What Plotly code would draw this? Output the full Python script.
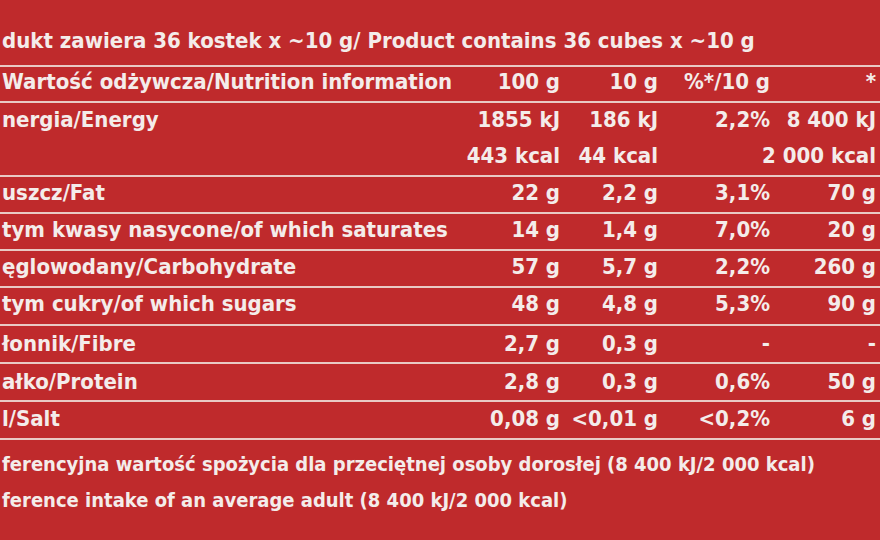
import plotly.graph_objects as go

labels = ["dukt zawiera 36 kostek x ~10 g/ Product contains 36 cubes x ~10 g",
          "Wartość odżywcza/Nutrition information", "nergia/Energy", "",
          "uszcz/Fat", "tym kwasy nasycone/of which saturates", "ęglowodany/Carbohydrate",
          "tym cukry/of which sugars", "łonnik/Fibre", "ałko/Protein", "l/Salt"]
notes = ["ferencyjna wartość spożycia dla przeciętnej osoby dorosłej (8 400 kJ/2 000 kcal)",
         "ference intake of an average adult (8 400 kJ/2 000 kcal)"]
col100 = ["", "100 g", "1855 kJ", "443 kcal", "22 g", "14 g", "57 g", "48 g", "2,7 g", "2,8 g", "0,08 g"]
col10 = ["", "10 g", "186 kJ", "44 kcal", "2,2 g", "1,4 g", "5,7 g", "4,8 g", "0,3 g", "0,3 g", "<0,01 g"]
colpct = ["", "%*/10 g", "2,2%", "", "3,1%", "7,0%", "2,2%", "5,3%", "-", "0,6%", "<0,2%"]
colri = ["", "*", "8 400 kJ", "2 000 kcal", "70 g", "20 g", "260 g", "90 g", "-", "50 g", "6 g"]
row_y = [42, 83, 121, 157, 194, 231, 268, 305, 345, 383, 420]
note_y = [466, 502]
line_y = [66, 102, 176, 213, 250, 287, 325, 363, 401, 439]

font = dict(family="DejaVu Sans Condensed", size=22, color="#f4ecea", weight="bold")
fig = go.Figure()
fig.add_trace(go.Scatter(x=[2]*len(labels), y=row_y, text=labels, mode="text",
                         textposition="middle right", textfont=font, cliponaxis=False))
fig.add_trace(go.Scatter(x=[2]*len(notes), y=note_y, text=notes, mode="text",
                         textposition="middle right", textfont=dict(font, size=20), cliponaxis=False))
for xr, col in [(560, col100), (658, col10), (770, colpct), (876, colri)]:
    fig.add_trace(go.Scatter(x=[xr]*len(col), y=row_y, text=col, mode="text",
                             textposition="middle left", textfont=font, cliponaxis=False))
for ly in line_y:
    fig.add_shape(type="line", x0=0, x1=880, y0=ly, y1=ly, line=dict(color="#e9c9c4", width=2))
fig.update_layout(width=880, height=540, margin=dict(l=0, r=0, t=0, b=0),
                  paper_bgcolor="#bf2a2c", plot_bgcolor="#bf2a2c", showlegend=False,
                  xaxis=dict(range=[0, 880], visible=False),
                  yaxis=dict(range=[540, 0], visible=False))
fig.write_html("out.html", config={"displayModeBar": False},
               post_script="document.body.style.margin='0';document.body.style.background='#bf2a2c';")
